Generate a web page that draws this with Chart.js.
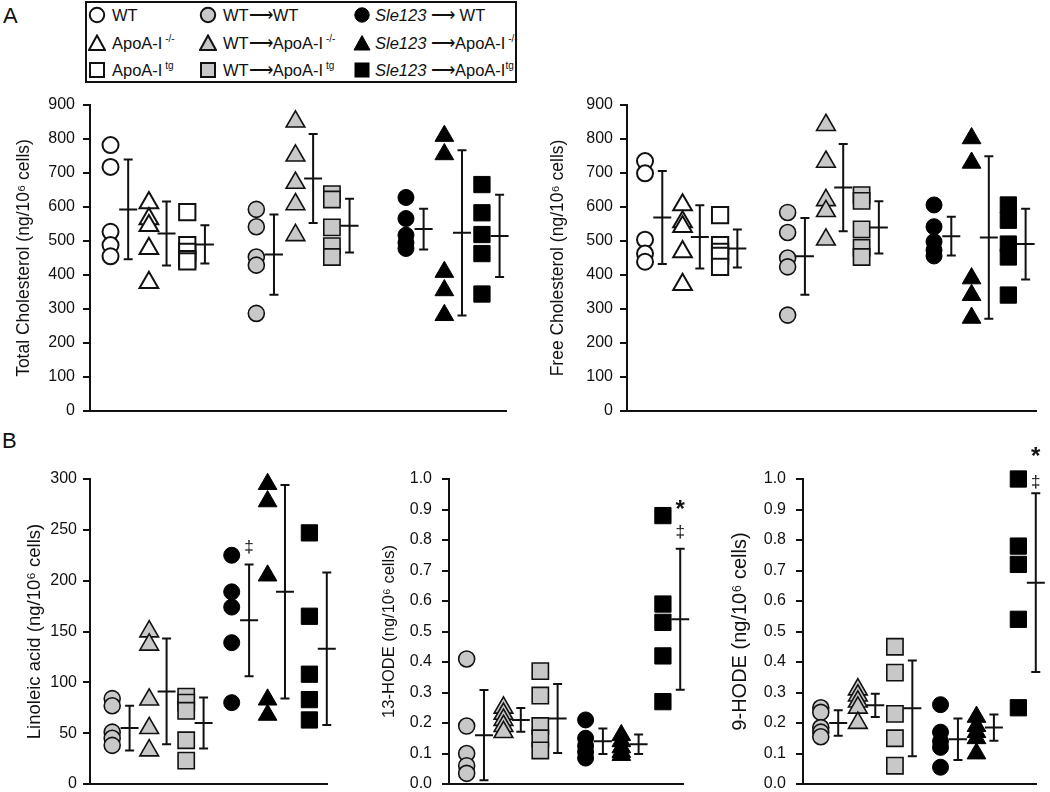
<!DOCTYPE html>
<html><head><meta charset="utf-8">
<script src="https://cdn.jsdelivr.net/npm/chart.js@4/dist/chart.umd.min.js"></script>
<style>
html,body{margin:0;padding:0;background:#fff;overflow:hidden;width:1050px;height:792px;position:relative;font-family:"Liberation Sans",Arial,sans-serif;color:#111;}
canvas{position:absolute;}
.lbl{position:absolute;font-size:22px;line-height:22px;}
#legend{position:absolute;left:85px;top:1px;width:432px;height:82px;border:2.5px solid #111;box-sizing:border-box;}
.li{position:absolute;font-size:16.5px;line-height:18px;white-space:nowrap;}
.li sup{font-size:10px;line-height:0;position:relative;top:-1px;vertical-align:super;}
.mk{position:absolute;width:18px;height:18px;}
</style></head><body>
<div class="lbl" style="left:3px;top:5px">A</div>
<div class="lbl" style="left:2px;top:430px">B</div>
<div id="legend"></div>
<div id="legitems"></div>
<script>
// ---------- data ----------
const seriesNames = ['WT','ApoA-I-/-','ApoA-Itg','WT→WT','WT→ApoA-I-/-','WT→ApoA-Itg','Sle123→WT','Sle123→ApoA-I-/-','Sle123→ApoA-Itg'];

const totalCholPoints = [
  [782,718,527,488,455],
  [612,565,545,478,378],
  [585,488,468,447,440],
  [593,542,453,429,287],
  [851,751,671,608,517],
  [638,622,540,485,453],
  [628,566,517,495,478],
  [809,755,409,355,282],
  [666,583,519,463,344]
];
const totalCholMean = [593,522,490,460,684,545,535,524,515];
const totalCholSD   = [147,94,56,118,131,79,60,243,121];

const freeCholPoints = [
  [735,699,504,463,439],
  [606,556,542,468,372],
  [576,488,468,456,424],
  [584,525,450,424,282],
  [841,733,620,588,504],
  [635,618,534,480,453],
  [606,542,498,473,456],
  [802,730,390,341,274],
  [606,561,491,453,341]
];
const freeCholMean = [569,512,478,455,657,540,514,510,491];
const freeCholSD   = [137,93,56,113,128,77,57,239,104];

const linoleicPoints = [
  [84,77,51,45,38],
  [150,137,83,55,33],
  [86,80,72,43,23],
  [225,189,174,139,80],
  [295,278,205,83,68],
  [247,165,108,83,63]
];
const linoleicMean = [55,91,60,161,189,133];
const linoleicSD   = [22,52,25,55,105,75];

const hode13Points = [
  [0.41,0.19,0.10,0.06,0.035],
  [0.25,0.23,0.21,0.19,0.17],
  [0.37,0.29,0.19,0.15,0.11],
  [0.21,0.15,0.125,0.105,0.085],
  [0.16,0.14,0.12,0.105,0.095],
  [0.88,0.59,0.53,0.42,0.27]
];
const hode13Mean = [0.16,0.21,0.215,0.14,0.13,0.54];
const hode13SD   = [0.148,0.039,0.113,0.042,0.032,0.231];

const hode9Points = [
  [0.25,0.235,0.185,0.17,0.155],
  [0.31,0.29,0.27,0.25,0.20],
  [0.45,0.365,0.23,0.15,0.06],
  [0.26,0.17,0.14,0.12,0.055],
  [0.22,0.19,0.17,0.15,0.10],
  [1.0,0.78,0.72,0.54,0.25]
];
const hode9Mean = [0.2,0.258,0.248,0.147,0.185,0.66];
const hode9SD   = [0.042,0.038,0.157,0.068,0.043,0.293];

const linoleicMarks = [{series:3, y:233, text:'‡'}];
const hode13Marks = [{series:5, y:0.91, text:'*'}, {series:5, y:0.825, text:'‡'}];
const hode9Marks  = [{series:5, y:1.085, text:'*'}, {series:5, y:0.99, text:'‡'}];

// ---------- styles & layout ----------
const GRAY = '#c8c8c8', INK = '#111';
const seriesStyles = [
  {shape:'circle',   fill:'#fff', border:INK, bw:2},
  {shape:'triangle', fill:'#fff', border:INK, bw:2},
  {shape:'rect',     fill:'#fff', border:INK, bw:2},
  {shape:'circle',   fill:GRAY,   border:INK, bw:1.6},
  {shape:'triangle', fill:GRAY,   border:INK, bw:1.6},
  {shape:'rect',     fill:GRAY,   border:INK, bw:1.6},
  {shape:'circle',   fill:'#000', border:'#000', bw:1},
  {shape:'triangle', fill:'#000', border:'#000', bw:1},
  {shape:'rect',     fill:'#000', border:'#000', bw:1}
];
const shapeRadius = {circle:8, triangle:10.8, rect:11.5};
const layoutA = {pos:[0,1,2,3.8,4.82,5.77,7.7,8.7,9.68], err:0.46};
const layoutB = {pos:[0,1,2,3.23,4.2,5.33], err:0.47};
const FONT = '"Liberation Sans", Arial, sans-serif';
Chart.defaults.font.family = FONT;
Chart.defaults.color = INK;

function makePanel(p) {
  const cv = document.createElement('canvas');
  cv.width = p.box.w; cv.height = p.box.h;
  cv.style.left = p.box.x + 'px'; cv.style.top = p.box.y + 'px';
  cv.style.width = p.box.w + 'px'; cv.style.height = p.box.h + 'px';
  document.body.appendChild(cv);
  const datasets = p.points.map((vals, i) => {
    const st = seriesStyles[p.styleOffset + i];
    return {
      label: seriesNames[p.styleOffset + i],
      data: vals.map(v => ({x: p.layout.pos[i], y: v})),
      pointStyle: st.shape,
      pointRadius: shapeRadius[st.shape],
      pointBackgroundColor: st.fill,
      pointBorderColor: st.border,
      pointBorderWidth: st.bw,
      showLine: false,
      clip: false
    };
  });
  const errPlugin = {
    id: 'errbars',
    afterDatasetsDraw(chart) {
      const {ctx, scales: {x, y}} = chart;
      ctx.save();
      ctx.strokeStyle = INK; ctx.lineWidth = 2; ctx.lineCap = 'butt';
      p.mean.forEach((m, i) => {
        const px = x.getPixelForValue(p.layout.pos[i] + p.layout.err);
        const yt = y.getPixelForValue(m + p.sd[i]);
        const yb = y.getPixelForValue(Math.max(m - p.sd[i], 0));
        const ym = y.getPixelForValue(m);
        ctx.beginPath();
        ctx.moveTo(px, yt); ctx.lineTo(px, yb);
        ctx.moveTo(px - 4.5, yt); ctx.lineTo(px + 4.5, yt);
        ctx.moveTo(px - 4.5, yb); ctx.lineTo(px + 4.5, yb);
        ctx.moveTo(px - 9, ym); ctx.lineTo(px + 9, ym);
        ctx.stroke();
      });
      ctx.fillStyle = INK; ctx.textAlign = 'center'; ctx.textBaseline = 'middle';
      (p.marks || []).forEach(mk => {
        ctx.font = mk.text === '*' ? 'bold 24px ' + FONT : '17px ' + FONT;
        const px = x.getPixelForValue(p.layout.pos[mk.series] + p.layout.err);
        const py = y.getPixelForValue(mk.y) + (mk.text === '*' ? 4 : 0);
        ctx.fillText(mk.text, px, py);
      });
      ctx.restore();
    }
  };
  new Chart(cv, {
    type: 'scatter',
    data: {datasets},
    plugins: [errPlugin],
    options: {
      responsive: false, animation: false, events: [],
      layout: {padding: {left: 0, top: p.pad.t, right: p.pad.r, bottom: p.pad.b}},
      plugins: {legend: {display: false}, tooltip: {enabled: false}},
      scales: {
        x: {
          type: 'linear', min: p.xmin, max: p.xmax,
          ticks: {display: false}, grid: {display: false},
          border: {display: true, color: INK, width: 2},
          afterFit: s => { s.height = 0; }
        },
        y: {
          type: 'linear', min: p.ymin, max: p.ymax,
          ticks: {stepSize: p.step, color: INK, font: {size: 16}, padding: p.tickPad,
                  callback: v => p.decimals ? Number(v).toFixed(p.decimals) : v},
          grid: {drawOnChartArea: false, drawTicks: true, tickLength: 7, color: INK, lineWidth: 2},
          border: {display: true, color: INK, width: 2},
          title: {display: true, text: p.title, color: INK, font: {size: p.titleSize}, padding: 0},
          afterFit: s => { s.width = p.yWidth; }
        }
      }
    }
  });
}

// chart areas: A top 105 / bottom 411 ; B top 479 / bottom 784
makePanel({box:{x:14,y:80,w:506,h:353}, yWidth:76, pad:{t:25,r:10,b:22}, tickPad:8, titleSize:17.5,
  points: totalCholPoints, mean: totalCholMean, sd: totalCholSD, styleOffset:0, layout: layoutA,
  xmin:-0.535, xmax:10.32, ymin:0, ymax:900, step:100, title:'Total Cholesterol (ng/10⁶ cells)'});
makePanel({box:{x:548,y:80,w:502,h:353}, yWidth:79, pad:{t:25,r:5,b:22}, tickPad:7, titleSize:17.5,
  points: freeCholPoints, mean: freeCholMean, sd: freeCholSD, styleOffset:0, layout: layoutA,
  xmin:-0.48, xmax:10.43, ymin:0, ymax:900, step:100, title:'Free Cholesterol (ng/10⁶ cells)'});
makePanel({box:{x:24,y:440,w:317,h:366}, yWidth:66, pad:{t:39,r:8,b:22}, tickPad:6, titleSize:18.5,
  points: linoleicPoints, mean: linoleicMean, sd: linoleicSD, styleOffset:3, layout: layoutB, marks: linoleicMarks,
  xmin:-0.6, xmax:5.83, ymin:0, ymax:300, step:50, title:'Linoleic acid (ng/10⁶ cells)'});
makePanel({box:{x:380,y:440,w:317,h:366}, yWidth:69, pad:{t:39,r:5,b:22}, tickPad:10, titleSize:16.5,
  points: hode13Points, mean: hode13Mean, sd: hode13SD, styleOffset:3, layout: layoutB, marks: hode13Marks,
  xmin:-0.48, xmax:5.9, ymin:0, ymax:1, step:0.1, decimals:1, title:'13-HODE (ng/10⁶ cells)'});
makePanel({box:{x:728,y:440,w:322,h:366}, yWidth:75, pad:{t:39,r:5,b:22}, tickPad:10, titleSize:20,
  points: hode9Points, mean: hode9Mean, sd: hode9SD, styleOffset:3, layout: layoutB, marks: hode9Marks,
  xmin:-0.48, xmax:5.83, ymin:0, ymax:1, step:0.1, decimals:1, title:'9-HODE (ng/10⁶ cells)'});

// ---------- legend (HTML) ----------
const legendLabels = [
  'WT', 'ApoA-I<sup> -/-</sup>', 'ApoA-I<sup> tg</sup>',
  'WT⟶WT', 'WT⟶ApoA-I<sup> -/-</sup>', 'WT⟶ApoA-I<sup> tg</sup>',
  '<i>Sle123</i> ⟶ WT', '<i>Sle123</i> ⟶ApoA-I<sup> -/-</sup>', '<i>Sle123</i> ⟶ApoA-I<sup>tg</sup>'
];
const legRowY = [15, 43, 70], legColMarker = [97, 208, 362], legColText = [112, 223, 375];
const holder = document.getElementById('legitems');
legendLabels.forEach((lab, i) => {
  const col = Math.floor(i / 3), row = i % 3;
  const st = seriesStyles[i];
  const cx = legColMarker[col], cy = legRowY[row];
  let shape;
  if (st.shape === 'circle') shape = `<circle cx="9" cy="9" r="7.2"/>`;
  else if (st.shape === 'triangle') shape = `<polygon points="9,1.5 17,16 1,16"/>`;
  else shape = `<rect x="2" y="2" width="14" height="14"/>`;
  holder.insertAdjacentHTML('beforeend',
    `<svg class="mk" style="left:${cx-9}px;top:${cy-9}px" viewBox="0 0 18 18"><g fill="${st.fill}" stroke="${st.border}" stroke-width="${st.bw === 1 ? 1 : 2}">${shape}</g></svg>` +
    `<div class="li" style="left:${legColText[col]}px;top:${cy-9}px">${lab}</div>`);
});
</script>
</body></html>
